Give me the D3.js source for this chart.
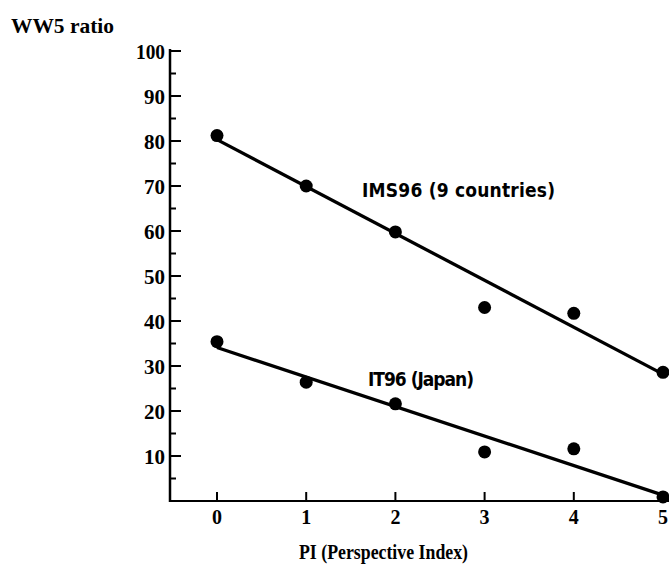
<!DOCTYPE html>
<html>
<head>
<meta charset="utf-8">
<script src="https://cdn.jsdelivr.net/npm/d3@7"></script>
<style>
  html, body { margin: 0; padding: 0; background: #fff; }
  svg { display: block; }
</style>
</head>
<body>
<svg id="chart" width="669" height="568"></svg>
<script>
// ---- data ----
const piValues = [0, 1, 2, 3, 4, 5];
const ims96 = [81.2, 70.0, 59.8, 43.0, 41.7, 28.6];
const it96 = [35.4, 26.4, 21.6, 10.9, 11.6, 0.9];
// fitted lines (values at PI = 0 and PI = 5)
const fitX = [0, 5];
const ims96Fit = [80.3, 28.2];
const it96Fit = [34.1, 1.3];
const yMajorTicks = [10, 20, 30, 40, 50, 60, 70, 80, 90, 100];
const yMinorTicks = [5, 15, 25, 35, 45, 55, 65, 75, 85, 95];
const xTicks = [0, 1, 2, 3, 4, 5];
const seriesLabels = ["IMS96 (9 countries)", "IT96 (Japan)"];
const yTitle = "WW5 ratio";
const xTitle = "PI (Perspective Index)";

const svg = d3.select("#chart");
const x = d3.scaleLinear().domain([0, 5]).range([217, 663]);
const y = d3.scaleLinear().domain([0, 100]).range([501, 51]);
const axisX = 170;
const serif = "'Liberation Serif','Times New Roman',serif";
const gothic = "'DejaVu Sans Condensed','Liberation Sans Narrow',sans-serif";

// y axis line
svg.append("line").attr("x1", axisX).attr("x2", axisX)
  .attr("y1", y(100) - 2).attr("y2", y(0) + 1)
  .attr("stroke", "#000").attr("stroke-width", 2.5);
// x axis line
svg.append("line").attr("x1", axisX - 1).attr("x2", 669)
  .attr("y1", y(0)).attr("y2", y(0))
  .attr("stroke", "#000").attr("stroke-width", 2.2);

// y major ticks (inward)
svg.selectAll(".ymaj").data(yMajorTicks).enter().append("line")
  .attr("x1", axisX).attr("x2", axisX + 11)
  .attr("y1", d => y(d)).attr("y2", d => y(d))
  .attr("stroke", "#000").attr("stroke-width", 2);
svg.selectAll(".ymin").data(yMinorTicks).enter().append("line")
  .attr("x1", axisX).attr("x2", axisX + 6)
  .attr("y1", d => y(d)).attr("y2", d => y(d))
  .attr("stroke", "#000").attr("stroke-width", 2);
// y labels
svg.selectAll(".ylab").data(yMajorTicks).enter().append("text")
  .attr("x", 165).attr("y", d => y(d) + 7.5)
  .attr("text-anchor", "end")
  .attr("font-family", serif).attr("font-weight", "bold")
  .attr("font-size", 21)
  .attr("textLength", d => String(d).length === 3 ? 29 : 21)
  .attr("lengthAdjust", "spacingAndGlyphs")
  .text(d => d);

// x ticks (inward)
svg.selectAll(".xt").data(xTicks).enter().append("line")
  .attr("x1", d => x(d)).attr("x2", d => x(d))
  .attr("y1", y(0)).attr("y2", y(0) - 9)
  .attr("stroke", "#000").attr("stroke-width", 2);
svg.selectAll(".xlab").data(xTicks).enter().append("text")
  .attr("x", d => x(d)).attr("y", 524)
  .attr("text-anchor", "middle")
  .attr("font-family", serif).attr("font-weight", "bold")
  .attr("font-size", 20)
  .text(d => d);

// fitted lines
const line = d3.line().x(d => x(d[0])).y(d => y(d[1]));
[ims96Fit, it96Fit].forEach(f => {
  svg.append("path")
    .attr("d", line(fitX.map((v, i) => [v, f[i]])))
    .attr("fill", "none").attr("stroke", "#000").attr("stroke-width", 3.3);
});

// points
[ims96, it96].forEach(s => {
  svg.selectAll(null).data(s).enter().append("circle")
    .attr("cx", (d, i) => x(piValues[i]))
    .attr("cy", d => y(d))
    .attr("r", 6.5).attr("fill", "#000");
});

// series labels
svg.append("text").attr("x", 362).attr("y", 197)
  .attr("font-family", gothic).attr("font-weight", "bold")
  .attr("font-size", 19).attr("textLength", 193).attr("lengthAdjust", "spacing")
  .text(seriesLabels[0]);
svg.append("text").attr("x", 368).attr("y", 386)
  .attr("font-family", gothic).attr("font-weight", "bold")
  .attr("font-size", 19).attr("textLength", 106).attr("lengthAdjust", "spacing")
  .text(seriesLabels[1]);

// titles
svg.append("text").attr("x", 11).attr("y", 33)
  .attr("font-family", serif).attr("font-weight", "bold")
  .attr("font-size", 21).attr("textLength", 103).attr("lengthAdjust", "spacingAndGlyphs")
  .text(yTitle);
svg.append("text").attr("x", 299).attr("y", 559)
  .attr("font-family", serif).attr("font-weight", "bold")
  .attr("font-size", 21).attr("textLength", 169).attr("lengthAdjust", "spacingAndGlyphs")
  .text(xTitle);
</script>
</body>
</html>
